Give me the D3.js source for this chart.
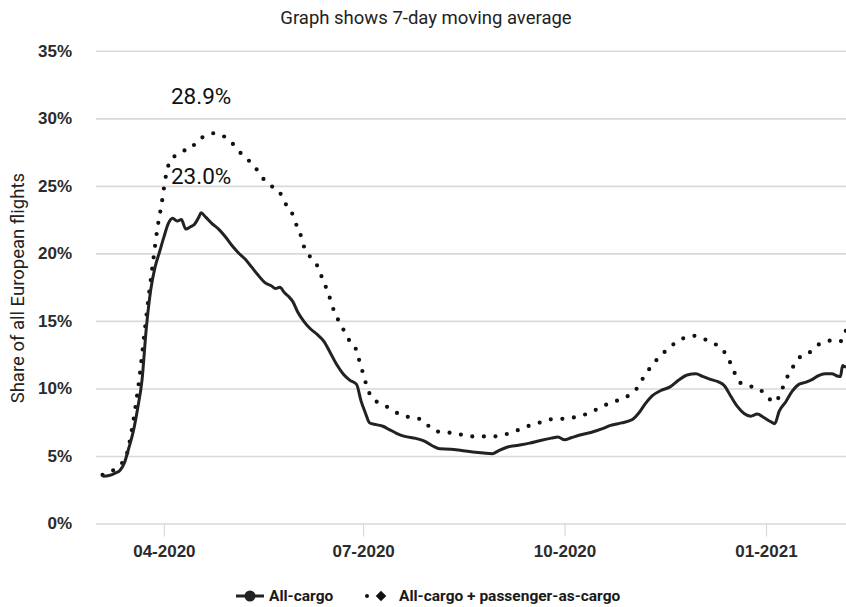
<!DOCTYPE html>
<html lang="en">
<head>
    <meta charset="utf-8">
    <title>All-cargo share of European flights</title>
    <style type="text/css">
        body { margin: 0; background: #fff; }
        .chart { display: block; font-family: Roboto, "Noto Sans", sans-serif; }
        .chart .grid line { stroke: #d9d9d9; stroke-width: 1.6; }
        .chart .grid text { fill: #2b2b2b; font-size: 17px; font-weight: 700; }
        .chart .axis-x line { stroke: #d9d9d9; stroke-width: 1.2; }
        .chart .axis-x text { fill: #2b2b2b; font-size: 17px; font-weight: 700; }
        .chart .domain { display: none; }
        .chart .line-cargo { fill: none; stroke: #222; stroke-width: 3; stroke-linejoin: round; }
        .chart .line-total { fill: none; stroke: #111; stroke-width: 4.2; stroke-linecap: round; stroke-dasharray: 0 11.6; }
        .chart .peak { fill: #111; font-size: 22.5px; text-anchor: middle; }
        .chart .legend text { fill: #1a1a1a; font-size: 15.5px; font-weight: 700; }
    </style>
</head>
<body>
<svg class="chart" width="846" height="607"></svg>

<script src="https://cdn.jsdelivr.net/npm/d3@7"></script>
<script>
    // all-cargo flights, 7-day moving average (% of all European flights)
    var cargoDates = [
        '2020-03-04','2020-03-07','2020-03-10','2020-03-12','2020-03-14','2020-03-16','2020-03-18','2020-03-20',
        '2020-03-22','2020-03-24','2020-03-26','2020-03-28','2020-03-30','2020-04-01','2020-04-03','2020-04-05',
        '2020-04-07','2020-04-09','2020-04-11','2020-04-13','2020-04-15','2020-04-17','2020-04-18','2020-04-20',
        '2020-04-23','2020-04-26','2020-04-29','2020-05-02','2020-05-05','2020-05-08','2020-05-11','2020-05-14',
        '2020-05-17','2020-05-20','2020-05-22','2020-05-24','2020-05-26','2020-05-28','2020-05-30','2020-06-01',
        '2020-06-04','2020-06-07','2020-06-10','2020-06-13','2020-06-16','2020-06-19','2020-06-22','2020-06-25',
        '2020-06-28','2020-06-30','2020-07-02','2020-07-04','2020-07-07','2020-07-10','2020-07-13','2020-07-16',
        '2020-07-20','2020-07-25','2020-07-29','2020-08-02','2020-08-05','2020-08-10','2020-08-15','2020-08-20',
        '2020-08-25','2020-08-29','2020-09-01','2020-09-05','2020-09-10','2020-09-15','2020-09-20','2020-09-25',
        '2020-09-28','2020-10-01','2020-10-04','2020-10-08','2020-10-13','2020-10-18','2020-10-22','2020-10-27',
        '2020-11-01','2020-11-04','2020-11-07','2020-11-10','2020-11-14','2020-11-18','2020-11-22','2020-11-26',
        '2020-11-30','2020-12-03','2020-12-07','2020-12-10','2020-12-13','2020-12-16','2020-12-19','2020-12-22',
        '2020-12-25','2020-12-28','2020-12-31','2021-01-03','2021-01-05','2021-01-07','2021-01-10','2021-01-13',
        '2021-01-16','2021-01-19','2021-01-22','2021-01-25','2021-01-28','2021-01-31','2021-02-03','2021-02-04',
        '2021-02-05','2021-02-06','2021-02-07'
    ];
    var cargoValues = [
        3.5, 3.55, 3.75, 3.95, 4.5, 5.6, 6.8, 8.5,
        10.6, 14.5, 17.3, 19.0, 20.1, 21.2, 22.2, 22.6,
        22.4, 22.5, 21.8, 21.95, 22.15, 22.7, 23.0, 22.7,
        22.2, 21.8, 21.25, 20.6, 20.05, 19.6, 19.0, 18.4,
        17.85, 17.6, 17.4, 17.5, 17.1, 16.8, 16.4, 15.7,
        14.95, 14.4, 14.0, 13.5, 12.65, 11.75, 11.05, 10.6,
        10.3, 9.1, 8.2, 7.44, 7.32, 7.2, 6.95, 6.7,
        6.45, 6.3, 6.1, 5.72, 5.53, 5.5, 5.4, 5.3,
        5.22, 5.17, 5.4, 5.66, 5.8, 5.95, 6.15, 6.32,
        6.4, 6.2, 6.35, 6.55, 6.74, 7.0, 7.26, 7.45,
        7.7, 8.2, 8.9, 9.45, 9.85, 10.1, 10.6, 11.0,
        11.08, 10.9, 10.65, 10.5, 10.2, 9.4, 8.65, 8.15,
        7.95, 8.1, 7.85, 7.55, 7.39, 8.3, 9.0, 9.8,
        10.3, 10.45, 10.65, 10.95, 11.08, 11.08, 10.9, 10.88,
        11.7, 11.6, 11.6
    ];

    // all-cargo + passenger-as-cargo flights
    var totalDates = [
        '2020-03-04','2020-03-07','2020-03-10','2020-03-13','2020-03-15','2020-03-17','2020-03-19','2020-03-21',
        '2020-03-23','2020-03-25','2020-03-27','2020-03-29','2020-03-31','2020-04-02','2020-04-04','2020-04-07',
        '2020-04-10','2020-04-13','2020-04-16','2020-04-20','2020-04-24','2020-04-28','2020-05-02','2020-05-05',
        '2020-05-09','2020-05-13','2020-05-16','2020-05-20','2020-05-24','2020-05-26','2020-05-29','2020-05-31',
        '2020-06-02','2020-06-04','2020-06-07','2020-06-10','2020-06-12','2020-06-14','2020-06-16','2020-06-18',
        '2020-06-21','2020-06-24','2020-06-27','2020-06-29','2020-07-01','2020-07-03','2020-07-05','2020-07-08',
        '2020-07-13','2020-07-18','2020-07-23','2020-07-28','2020-08-01','2020-08-06','2020-08-12','2020-08-18',
        '2020-08-24','2020-08-30','2020-09-04','2020-09-09','2020-09-14','2020-09-19','2020-09-24','2020-09-30',
        '2020-10-05','2020-10-10','2020-10-15','2020-10-20','2020-10-25','2020-10-30','2020-11-03','2020-11-06',
        '2020-11-09','2020-11-12','2020-11-16','2020-11-20','2020-11-24','2020-11-29','2020-12-03','2020-12-08',
        '2020-12-12','2020-12-15','2020-12-17','2020-12-20','2020-12-24','2020-12-29','2021-01-02','2021-01-05',
        '2021-01-08','2021-01-10','2021-01-13','2021-01-16','2021-01-20','2021-01-25','2021-01-30','2021-02-03',
        '2021-02-05','2021-02-06','2021-02-07'
    ];
    var totalValues = [
        3.6, 3.8, 4.05, 4.5, 5.1, 6.6, 8.6, 11.0,
        13.9, 16.7, 19.3, 21.8, 23.7, 25.8, 26.9, 27.3,
        27.6, 27.7, 28.3, 28.7, 28.9, 28.7, 28.2, 27.6,
        27.0, 26.3, 25.6, 25.0, 24.5, 23.8, 23.2, 22.3,
        21.6, 20.5, 19.7, 19.1, 18.3, 17.5, 16.6, 15.6,
        14.7, 13.7, 13.2, 12.2, 11.1, 10.0, 9.3, 8.95,
        8.55, 8.05, 7.85, 7.68, 7.05, 6.75, 6.7, 6.45,
        6.45, 6.45, 6.6, 6.87, 7.19, 7.44, 7.7, 7.75,
        7.85, 8.05, 8.4, 8.8, 9.1, 9.45, 10.0, 10.8,
        11.5, 12.1, 12.75, 13.3, 13.7, 13.9, 13.7, 13.35,
        12.9, 12.15, 11.4, 10.45, 10.2, 9.95, 9.3, 8.96,
        9.8, 10.6, 11.5, 12.25, 12.55, 13.25, 13.54, 13.45,
        13.6, 14.2, 14.3
    ];

    var seriesNames = ['All-cargo', 'All-cargo + passenger-as-cargo'];
    var yTicks = [0, 5, 10, 15, 20, 25, 30, 35];
    var xTicks = ['2020-04-01', '2020-07-01', '2020-10-01', '2021-01-01'];
    var xDomain = ['2020-03-01', '2021-02-07'];

    var svg = d3.select('.chart'),
        width = +svg.attr('width'),
        height = +svg.attr('height'),
        plot = {left: 96, right: 847, top: 50.8, bottom: 523.5};

    var parseDate = d3.timeParse('%Y-%m-%d');

    var cargo = cargoDates.map(function(d, i) { return {date: parseDate(d), value: cargoValues[i]}; });
    var total = totalDates.map(function(d, i) { return {date: parseDate(d), value: totalValues[i]}; });

    // scales
    var x = d3.scaleTime()
        .domain(xDomain.map(parseDate))
        .range([plot.left, plot.right]);
    var y = d3.scaleLinear()
        .domain([0, 35])
        .range([plot.bottom, plot.top]);

    // title
    svg.append('text')
        .attr('x', 426)
        .attr('y', 24)
        .attr('text-anchor', 'middle')
        .style('font-size', '18.5px')
        .style('fill', '#222')
        .text('Graph shows 7-day moving average');

    // y gridlines + labels
    svg.append('g')
        .attr('class', 'grid')
        .attr('transform', 'translate(' + plot.left + ',0)')
        .call(d3.axisLeft(y)
            .tickValues(yTicks)
            .tickSize(-(width - plot.left))
            .tickPadding(24)
            .tickFormat(function(d) { return d + '%'; }));

    // x axis
    svg.append('g')
        .attr('class', 'axis-x')
        .attr('transform', 'translate(0,' + plot.bottom + ')')
        .call(d3.axisBottom(x)
            .tickValues(xTicks.map(parseDate))
            .tickSize(13)
            .tickPadding(8)
            .tickFormat(d3.timeFormat('%m-%Y')));

    // y title
    svg.append('text')
        .attr('transform', 'translate(24,' + ((plot.top + plot.bottom) / 2 + 1) + ') rotate(-90)')
        .attr('text-anchor', 'middle')
        .style('font-size', '18.5px')
        .style('fill', '#222')
        .text('Share of all European flights');

    // lines
    var line = d3.line()
        .x(function(d) { return x(d.date); })
        .y(function(d) { return y(d.value); })
        .curve(d3.curveMonotoneX);

    svg.append('path')
        .datum(total)
        .attr('class', 'line-total')
        .attr('d', line);

    svg.append('path')
        .datum(cargo)
        .attr('class', 'line-cargo')
        .attr('d', line);

    // peak labels, centred over the all-cargo peak
    var cargoPeak = cargo.reduce(function(a, b) { return b.value > a.value ? b : a; });
    var totalPeak = total.reduce(function(a, b) { return b.value > a.value ? b : a; });
    [cargoPeak, totalPeak].forEach(function(p) {
        svg.append('text')
            .attr('class', 'peak')
            .attr('x', x(cargoPeak.date))
            .attr('y', y(p.value) - 29)
            .text(d3.format('.1f')(p.value) + '%');
    });

    // legend
    var legend = svg.append('g')
        .attr('class', 'legend')
        .attr('transform', 'translate(0,596)');

    legend.append('line')
        .attr('x1', 236).attr('x2', 264)
        .attr('stroke', '#222').attr('stroke-width', 3);
    legend.append('circle')
        .attr('cx', 250).attr('r', 5.5)
        .attr('fill', '#222');
    legend.append('text')
        .attr('x', 269).attr('dy', '0.35em')
        .text(seriesNames[0]);

    legend.append('circle')
        .attr('cx', 367).attr('r', 2)
        .attr('fill', '#111');
    legend.append('path')
        .attr('transform', 'translate(381,0)')
        .attr('d', d3.symbol().type(d3.symbolDiamond2).size(70))
        .attr('fill', '#111');
    legend.append('text')
        .attr('x', 399).attr('dy', '0.35em')
        .text(seriesNames[1]);
</script>
</body>
</html>
